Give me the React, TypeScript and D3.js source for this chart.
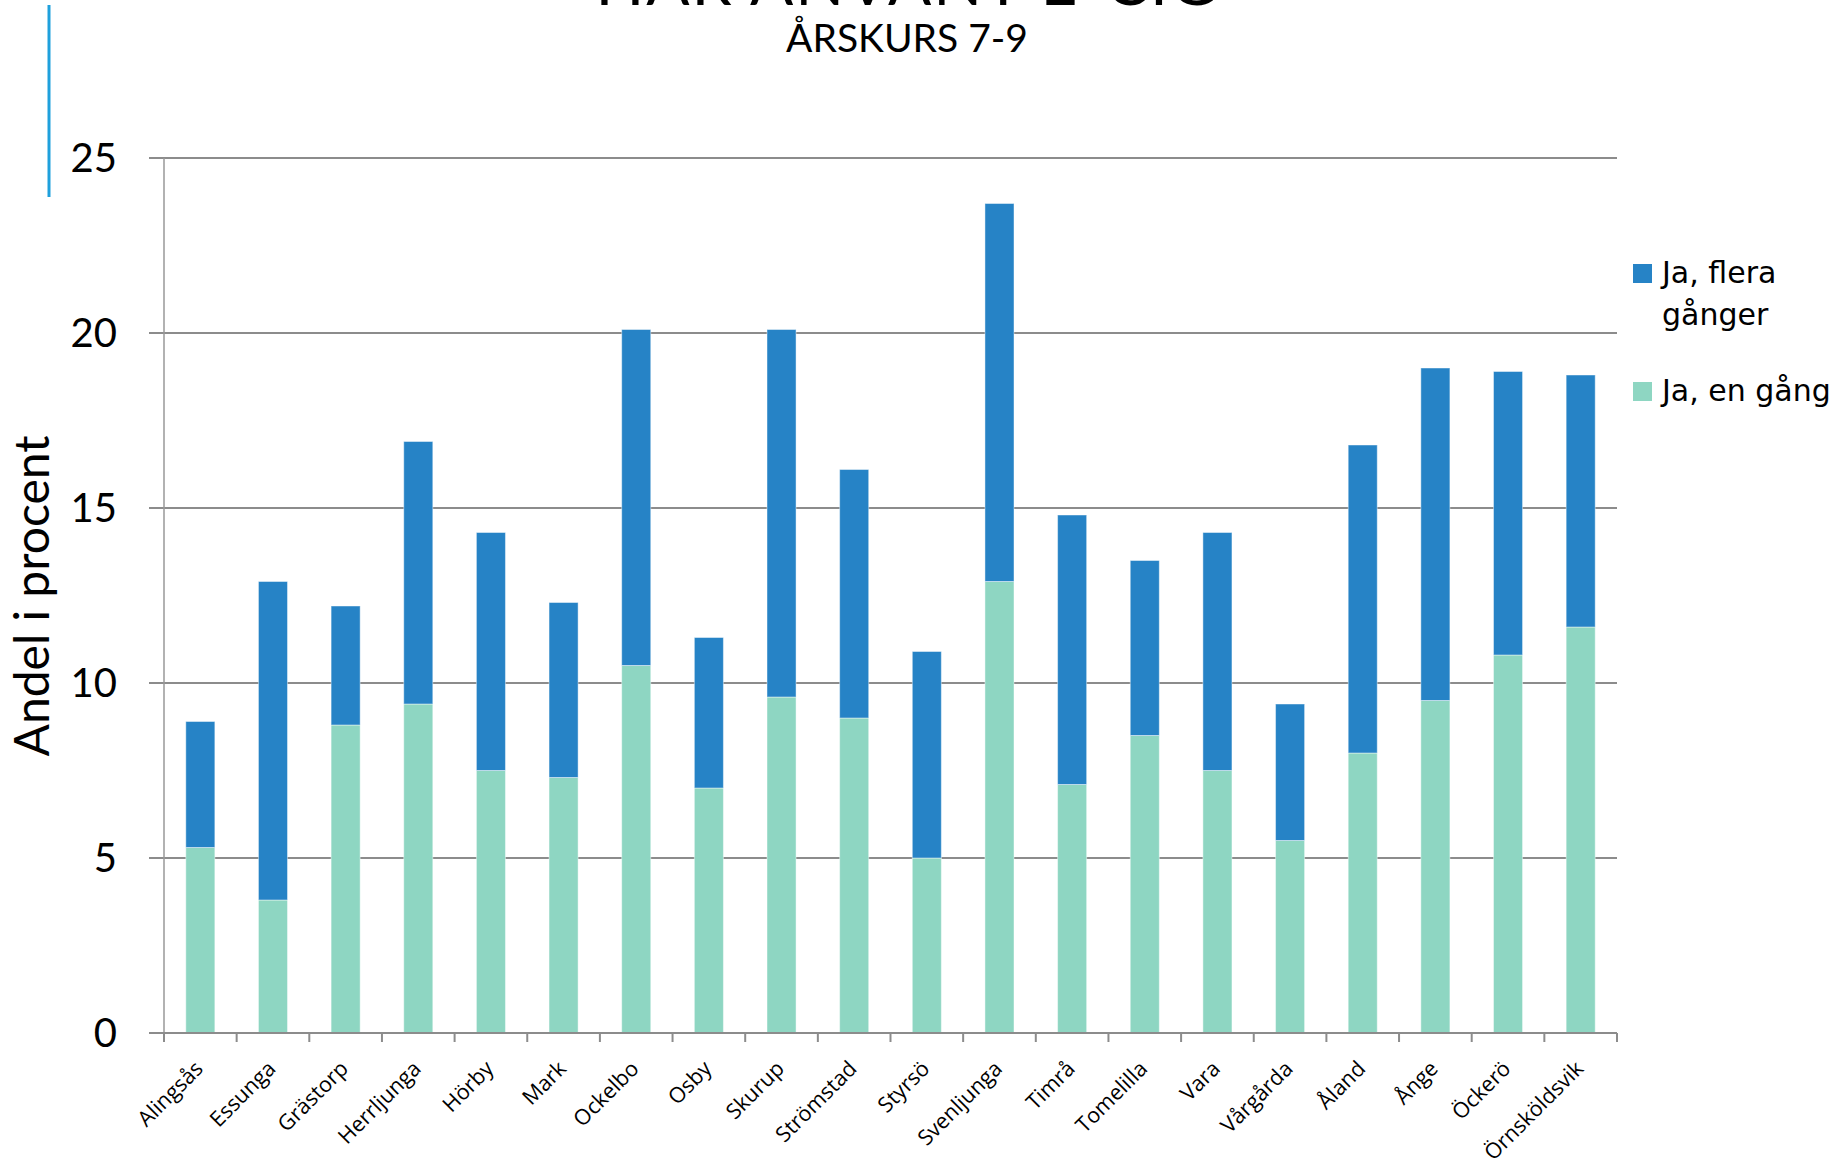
import React from "react";
import * as d3 from "d3";

const categories = [
  "Alingsås", "Essunga", "Grästorp", "Herrljunga", "Hörby", "Mark", "Ockelbo", "Osby",
  "Skurup", "Strömstad", "Styrsö", "Svenljunga", "Timrå", "Tomelilla", "Vara", "Vårgårda",
  "Åland", "Ånge", "Öckerö", "Örnsköldsvik",
];
// "Ja, en gång" (bottom segment)
const enGang = [5.3, 3.8, 8.8, 9.4, 7.5, 7.3, 10.5, 7.0, 9.6, 9.0, 5.0, 12.9, 7.1, 8.5, 7.5, 5.5, 8.0, 9.5, 10.8, 11.6];
// "Ja, flera gånger" (top segment)
const fleraGanger = [3.6, 9.1, 3.4, 7.5, 6.8, 5.0, 9.6, 4.3, 10.5, 7.1, 5.9, 10.8, 7.7, 5.0, 6.8, 3.9, 8.8, 9.5, 8.1, 7.2];
const yTicks = [0, 5, 10, 15, 20, 25];
const seriesNames = ["Ja, flera gånger", "Ja, en gång"];
const titleText = "HAR ANVÄNT E-CIG";
const subtitleText = "ÅRSKURS 7-9";
const yAxisTitle = "Andel i procent";

const BLUE = "#2683C6";
const GREEN = "#8ED6C2";
const GRID = "#8c8c8c";

export default function App() {
  const W = 1841, H = 1164;
  const left = 164, right = 1617, top = 158, bottom = 1033;

  const x = d3.scaleBand<string>().domain(categories).range([left, right]).paddingInner(0.6).paddingOuter(0.3);
  const y = d3.scaleLinear().domain([0, 25]).range([bottom, top]);
  const step = x.step();

  const rows = categories.map((c, i) => ({ cat: c, en: enGang[i], flera: fleraGanger[i] }));
  const stack = d3.stack<any>().keys(["en", "flera"])(rows);
  const colors: Record<string, string> = { en: GREEN, flera: BLUE };

  const font = "Lato, 'DejaVu Sans', sans-serif";

  return (
    <svg width={W} height={H} style={{ position: "absolute", left: 0, top: 0, background: "#fff" }}>
      <rect x={0} y={0} width={W} height={H} fill="#fff" />
      {/* accent line */}
      <line x1={49} x2={49} y1={5} y2={197} stroke="#1fa0dc" strokeWidth={3} />
      {/* titles */}
      <text x={907} y={5} textAnchor="middle" fontFamily={font} fontSize={64} letterSpacing={2} fill="#000">{titleText}</text>
      <text x={907} y={52} textAnchor="middle" fontFamily={font} fontSize={39} fill="#000">{subtitleText}</text>

      {/* gridlines */}
      {yTicks.filter((t) => t > 0).map((t) => (
        <line key={t} x1={left - 15} x2={right} y1={y(t)} y2={y(t)} stroke={GRID} strokeWidth={2} />
      ))}
      {/* y ticks labels */}
      {yTicks.map((t) => (
        <text key={"l" + t} x={117} y={y(t) + 14} textAnchor="end" fontFamily={font} fontSize={40} fill="#000">{t}</text>
      ))}
      {/* y axis */}
      <line x1={left} x2={left} y1={top} y2={bottom} stroke="#999" strokeWidth={1.5} />
      <text transform={`translate(49, 596) rotate(-90)`} textAnchor="middle" fontFamily={font} fontSize={48} fill="#000">{yAxisTitle}</text>

      {/* bars */}
      {stack.map((s) => (
        <g key={s.key} fill={colors[s.key]}>
          {s.map((d: any, i: number) => (
            <rect key={i} x={x(categories[i])} width={x.bandwidth()} y={y(d[1])} height={y(d[0]) - y(d[1])}
              stroke="rgba(255,255,255,0.45)" strokeWidth={1} />
          ))}
        </g>
      ))}

      {/* x axis */}
      <line x1={left - 15} x2={right} y1={bottom} y2={bottom} stroke={GRID} strokeWidth={2} />
      {d3.range(categories.length + 1).map((i) => (
        <line key={"t" + i} x1={left + i * step} x2={left + i * step} y1={bottom} y2={bottom + 9} stroke={GRID} strokeWidth={2} />
      ))}
      {categories.map((c) => {
        const cx = (x(c) as number) + x.bandwidth() / 2;
        return (
          <text key={"x" + c} transform={`translate(${cx + 4}, 1070) rotate(-45)`} textAnchor="end"
            fontFamily="'Open Sans', sans-serif" fontSize={21.5} fill="#000">{c}</text>
        );
      })}

      {/* legend */}
      <rect x={1633} y={264} width={19} height={19} fill={BLUE} />
      <text x={1662} y={283} fontFamily="'DejaVu Sans', sans-serif" fontSize={30} fill="#000">
        <tspan x={1662}>Ja, flera</tspan>
        <tspan x={1662} dy={42}>gånger</tspan>
      </text>
      <rect x={1633} y={382} width={19} height={19} fill={GREEN} />
      <text x={1662} y={401} fontFamily="'DejaVu Sans', sans-serif" fontSize={30} fill="#000">{seriesNames[1]}</text>
    </svg>
  );
}
